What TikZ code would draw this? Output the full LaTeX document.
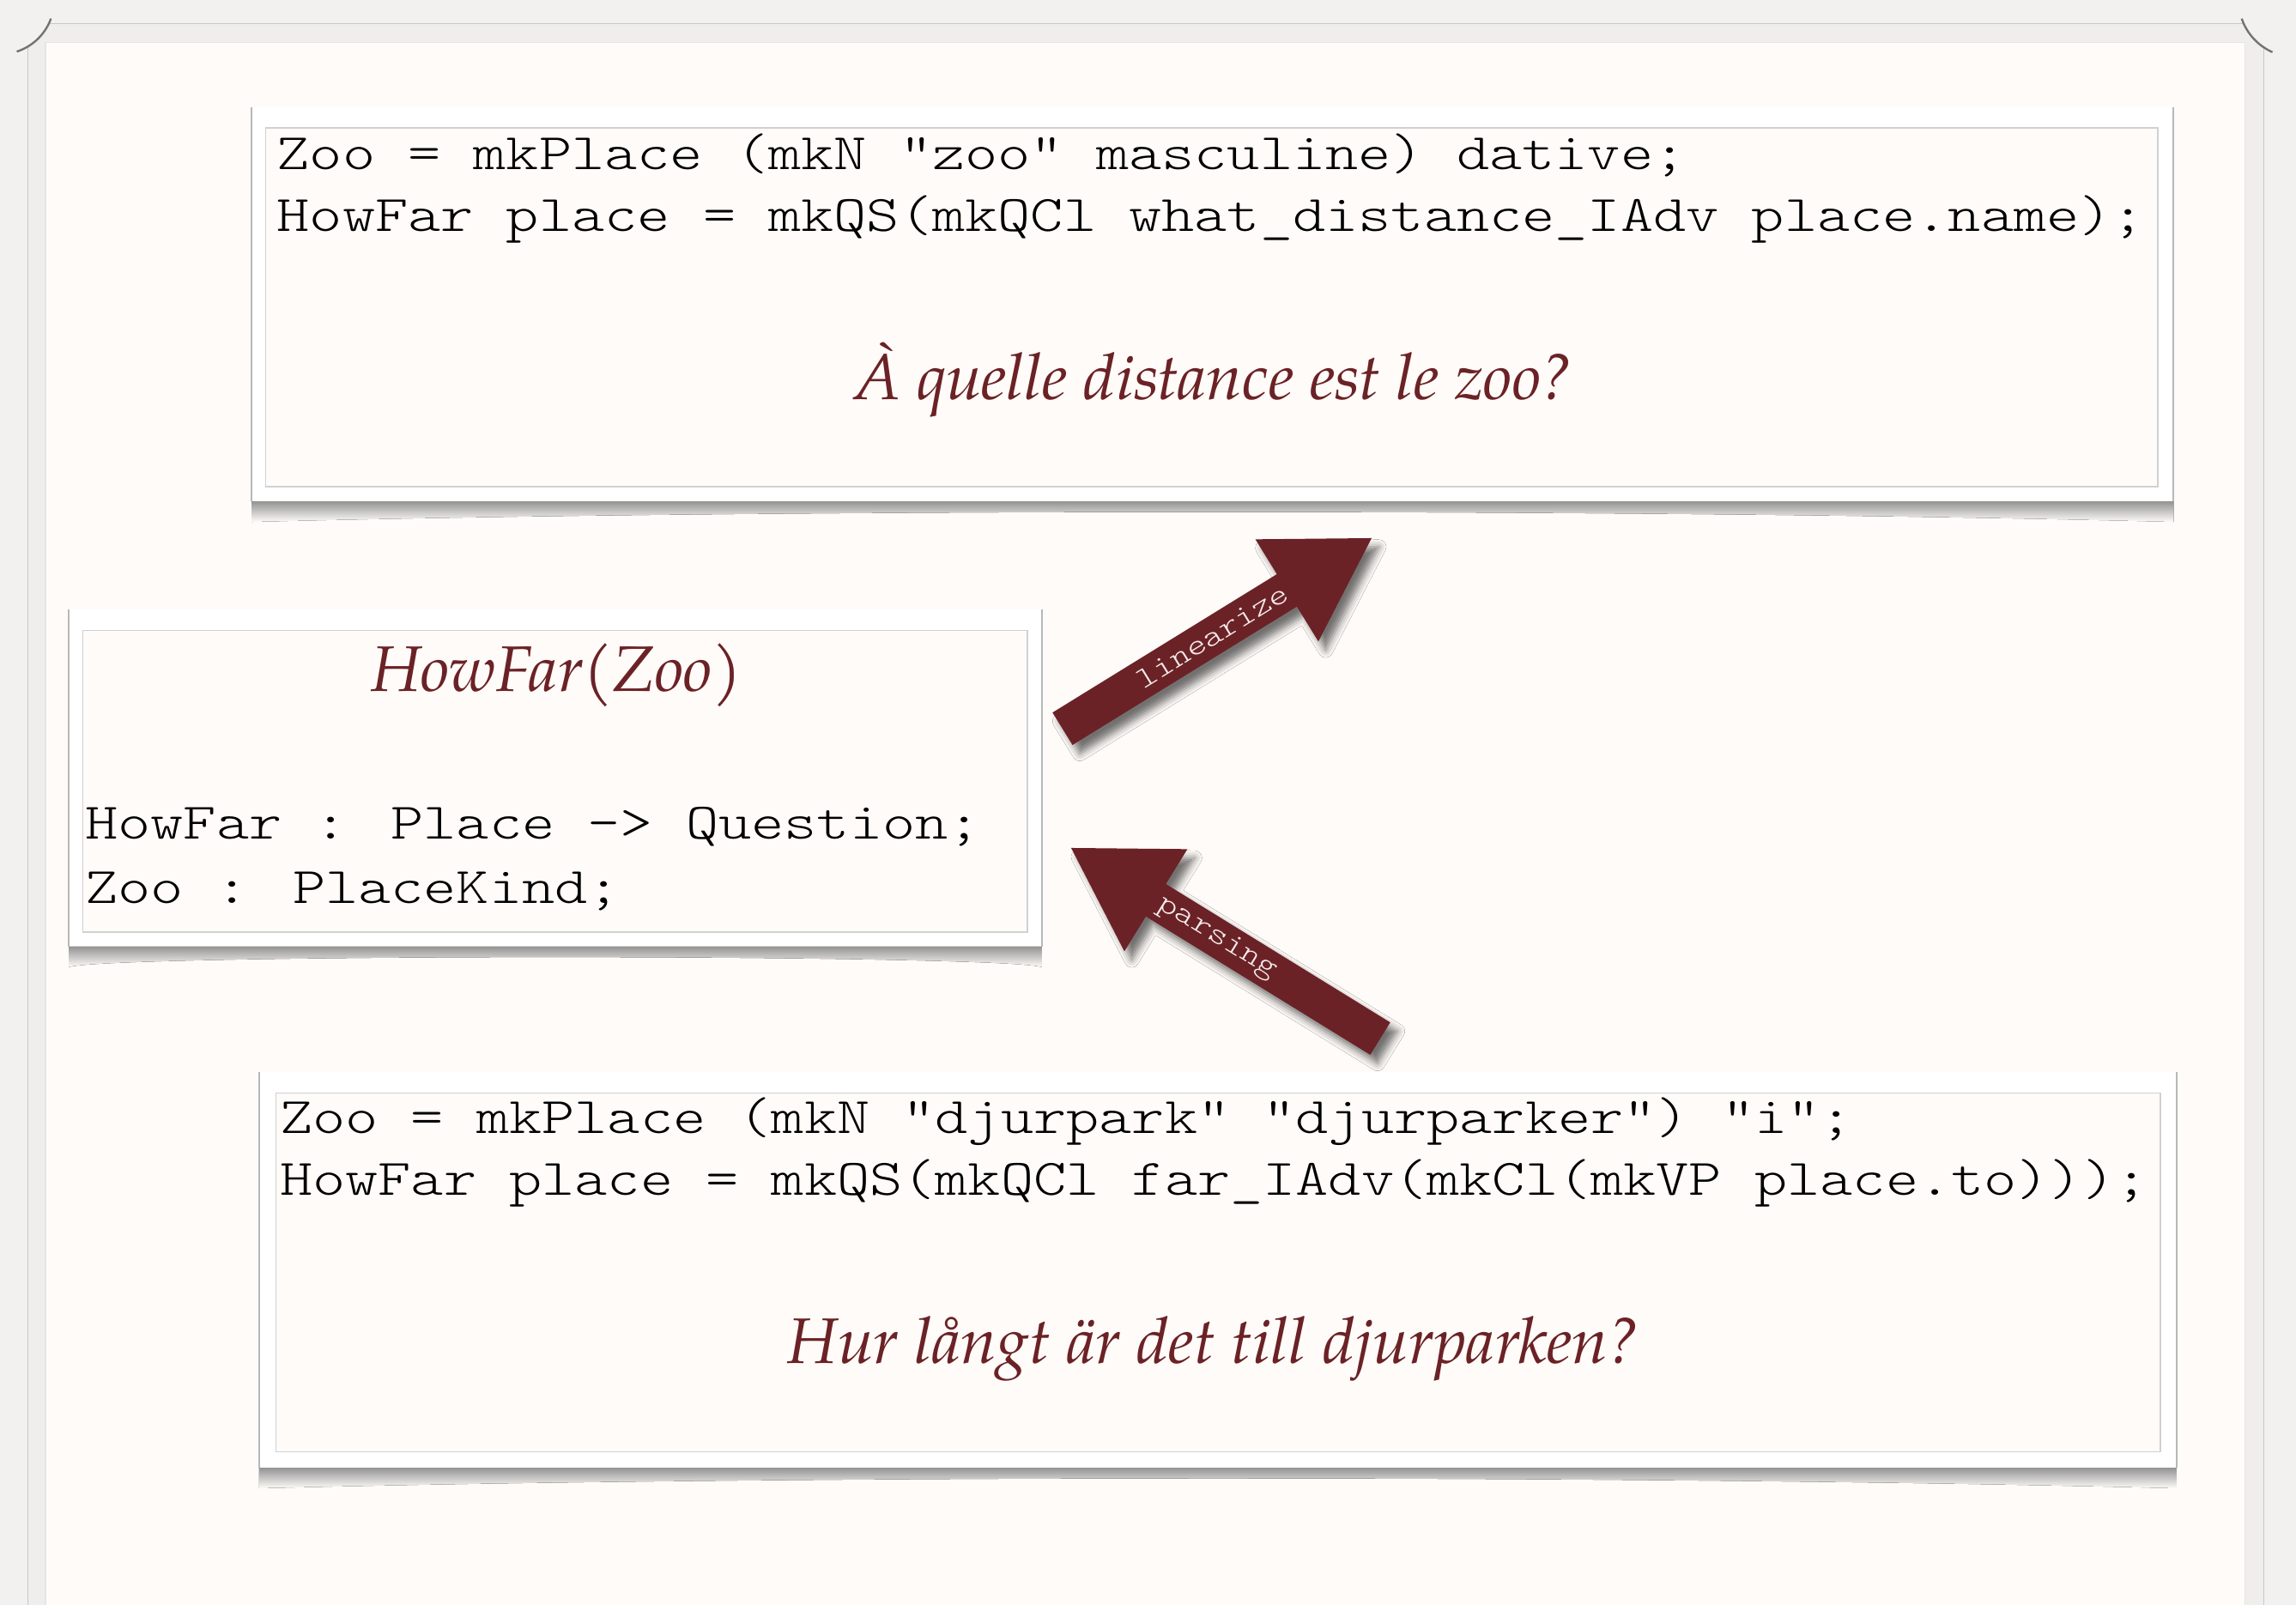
\documentclass[tikz,border=0pt]{standalone}
\usepackage{fontspec}
\usetikzlibrary{calc,shadows.blur}
\newfontfamily\codefont{lmmonolt10-regular.otf}[FakeStretch=1.218,Ligatures=TeXOff]
\newfontfamily\serifit{texgyrepagella-italic.otf}
\definecolor{bgout}{HTML}{F2F1EF}
\definecolor{paper}{HTML}{FEFBF8}
\definecolor{strip}{HTML}{EFEEEC}
\definecolor{wine}{HTML}{6B2226}
\definecolor{arrowtxt}{HTML}{F4ECEC}
\tikzset{
  code/.style={font=\codefont\fontsize{35}{42}\selectfont, anchor=base west, inner sep=0pt, text=black},
  gloss/.style={font=\serifit\fontsize{44}{50}\selectfont, anchor=base, inner sep=0pt, text=wine},
  arrowlabel/.style={font=\codefont\fontsize{20.5}{24}\selectfont, text=arrowtxt, inner sep=0pt},
  outerbox/.style={fill=white, draw=none, anchor=north west, inner sep=0pt},
  innerbox/.style={fill=paper, draw=black!18, line width=1pt, anchor=north west, inner sep=0pt},
  edgeline/.style={draw=black!28, line width=1.2pt},
  boxshadow/.style={top color=black!42, bottom color=paper, draw=none},
  bigarrow/.style={fill=wine, blur shadow={shadow xshift=5pt, shadow yshift=-6pt, shadow blur radius=5pt, shadow opacity=55}},
}
\newcommand\boxshadowpath[1]{%
  \fill[boxshadow] (#1.south west) -- (#1.south east) -- ($(#1.south east)+(0,14)$)
    .. controls ($(#1.south)+(300,5)$) and ($(#1.south)+(-300,5)$) .. ($(#1.south west)+(0,14)$) -- cycle;}
\begin{document}
\begin{tikzpicture}[x=1pt,y=-1pt]
\useasboundingbox (0,0) rectangle (1568,1096);
% ---- page background ----
\fill[bgout] (0,0) rectangle (1568,1096);
\fill[strip] (19,1096) -- (19,31.7) arc[start angle=59, end angle=25.6, radius=37]
   -- (1532.4,16) arc[start angle=155.8, end angle=124.3, radius=39] -- (1546,1096) -- cycle;
\fill[paper] (31,29) rectangle (1533,1096);
\draw[black!22, line width=0.8pt] (19,32) -- (19,1096);
\draw[black!22, line width=0.8pt] (33,16) -- (1532,16);
\draw[black!22, line width=0.8pt] (1546,32) -- (1546,1096);
\draw[black!10, line width=0.8pt] (31,1096) -- (31,29) -- (1533,29) -- (1533,1096);
\draw[black!55, line width=1.4pt] (34.8,12.7) arc[start angle=20, end angle=72, radius=37];
\draw[black!55, line width=1.4pt] (1530.9,12.7) arc[start angle=161, end angle=114, radius=39];

% ---- boxes ----
\node[outerbox, minimum width=1312pt, minimum height=269pt] (freOut) at (172,73) {};
\boxshadowpath{freOut}
\draw[edgeline] (freOut.north west) -- (freOut.south west);
\draw[edgeline] (freOut.north east) -- (freOut.south east);
\node[innerbox, minimum width=1292pt, minimum height=245pt] (freIn) at (181,87) {};

\node[outerbox, minimum width=664pt, minimum height=230pt] (absOut) at (47,416) {};
\boxshadowpath{absOut}
\draw[edgeline] (absOut.north west) -- (absOut.south west);
\draw[edgeline] (absOut.north east) -- (absOut.south east);
\node[innerbox, minimum width=645pt, minimum height=206pt] (absIn) at (56,430) {};

\node[outerbox, minimum width=1309pt, minimum height=270pt] (sweOut) at (177,732) {};
\boxshadowpath{sweOut}
\draw[edgeline] (sweOut.north west) -- (sweOut.south west);
\draw[edgeline] (sweOut.north east) -- (sweOut.south east);
\node[innerbox, minimum width=1287pt, minimum height=245pt] (sweIn) at (188,746) {};

% ---- texts ----
\node[code] (freZoo) at (189,116) {Zoo = mkPlace (mkN "zoo" masculine) dative;};
\node[code] (freHow) at (189,158) {HowFar place = mkQS(mkQCl what\_distance\_IAdv place.name);};
\node[gloss] (freGloss) at (829,273) {À quelle distance est le zoo?};

\node[gloss] (absGloss) at (380,472) {HowFar(Zoo)};
\node[code] (absFun) at (58,573) {HowFar : Place -> Question;};
\node[code] (absCat) at (58,617) {Zoo : PlaceKind;};

\node[code] (sweZoo) at (191,774) {Zoo = mkPlace (mkN "djurpark" "djurparker") "i";};
\node[code] (sweHow) at (191,816) {HowFar place = mkQS(mkQCl far\_IAdv(mkCl(mkVP place.to)));};
\node[gloss] (sweGloss) at (829,931) {Hur långt är det till djurparken?};

% ---- arrows ----
\coordinate (linT) at (725.6,497.7);
\coordinate (linH) at (936.7,367.5);
\coordinate (linB) at ($(linH)!68pt!(linT)$);
\fill[bigarrow] ($(linT)!13pt!90:(linH)$) -- ($(linB)!13pt!90:(linH)$) -- ($(linB)!41pt!90:(linH)$)
   -- (linH) -- ($(linB)!41pt!-90:(linH)$) -- ($(linB)!13pt!-90:(linH)$) -- ($(linT)!13pt!-90:(linH)$) -- cycle;
\node[arrowlabel, rotate=31.7] (linL) at ($(linT)!0.485!(linH)$) {linearize};

\coordinate (parT) at (942.6,709.3);
\coordinate (parH) at (731.5,579.1);
\coordinate (parB) at ($(parH)!68pt!(parT)$);
\fill[bigarrow] ($(parT)!13pt!90:(parH)$) -- ($(parB)!13pt!90:(parH)$) -- ($(parB)!41pt!90:(parH)$)
   -- (parH) -- ($(parB)!41pt!-90:(parH)$) -- ($(parB)!13pt!-90:(parH)$) -- ($(parT)!13pt!-90:(parH)$) -- cycle;
\node[arrowlabel, rotate=-31.7] (parL) at ($(parT)!0.528!(parH)$) {parsing};
\end{tikzpicture}
\end{document}
